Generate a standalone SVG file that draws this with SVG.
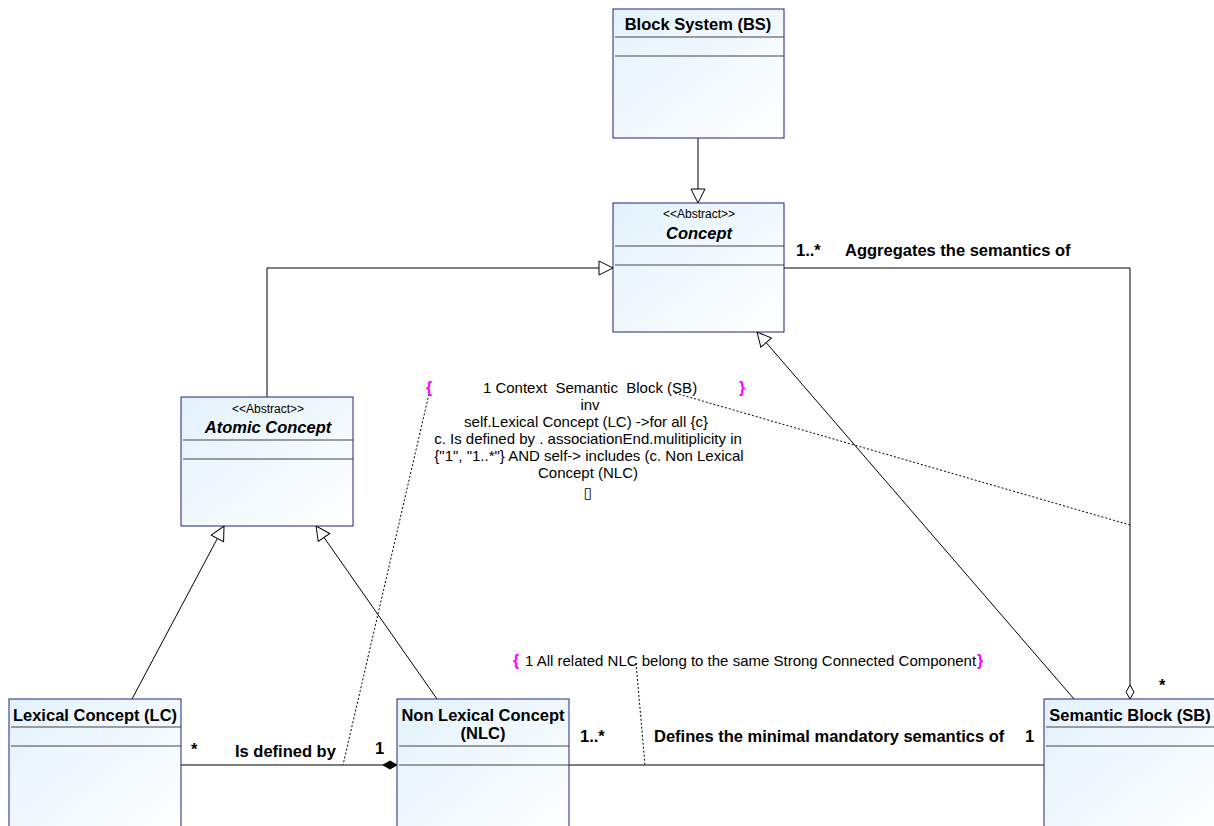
<svg xmlns="http://www.w3.org/2000/svg" width="1214" height="826" viewBox="0 0 1214 826">
<defs>
<linearGradient id="g" x1="0" y1="0" x2="1" y2="1">
<stop offset="0" stop-color="#e3f2fc"/>
<stop offset="1" stop-color="#ffffff"/>
</linearGradient>
<marker id="tri" viewBox="0 0 16 16" refX="15" refY="8" markerWidth="16" markerHeight="16" markerUnits="userSpaceOnUse" orient="auto">
<path d="M1,1 L15,8 L1,15 Z" fill="#fff" stroke="#000" stroke-width="1"/>
</marker>
<marker id="dia" viewBox="0 0 16 10" refX="15" refY="5" markerWidth="16" markerHeight="10" markerUnits="userSpaceOnUse" orient="auto">
<path d="M1,5 L8,1 L15,5 L8,9 Z" fill="#fff" stroke="#000" stroke-width="1"/>
</marker>
<marker id="fdia" viewBox="0 0 16 10" refX="15" refY="5" markerWidth="16" markerHeight="10" markerUnits="userSpaceOnUse" orient="auto">
<path d="M1,5 L8,1 L15,5 L8,9 Z" fill="#000" stroke="#000" stroke-width="1"/>
</marker>
</defs>
<style>
.box{fill:url(#g);stroke:#22227a;stroke-width:1}
.sep{stroke:#444;stroke-width:1.2}
.t{font-family:"Liberation Sans",Arial,sans-serif;font-weight:bold;font-size:16.5px;fill:#000;text-anchor:middle}
.ti{font-style:italic}
.st{font-family:"Liberation Sans",Arial,sans-serif;font-size:12px;fill:#000;text-anchor:middle}
.l{font-family:"Liberation Sans",Arial,sans-serif;font-weight:bold;font-size:16.5px;fill:#000}
.c{font-family:"Liberation Sans",Arial,sans-serif;font-size:15px;fill:#000;text-anchor:middle;white-space:pre}
.b{font-family:"Liberation Sans",Arial,sans-serif;font-weight:bold;font-size:16px;fill:#ff00ff}
.ln{fill:none;stroke:#000;stroke-width:1}
.dt{fill:none;stroke:#000;stroke-width:1;stroke-dasharray:2,2}
</style>
<g id="connectors">
<path class="ln" d="M698,138 V203" marker-end="url(#tri)"/>
<path class="ln" d="M267,397 V268 H613" marker-end="url(#tri)"/>
<path class="ln" d="M784,268 H1130 V699" marker-end="url(#dia)"/>
<path class="ln" d="M1074,699 L757,332" marker-end="url(#tri)"/>
<path class="ln" d="M132,699 L224,526" marker-end="url(#tri)"/>
<path class="ln" d="M437,699 L316,526" marker-end="url(#tri)"/>
<path class="ln" d="M181,765 H397" marker-end="url(#fdia)"/>
<path class="ln" d="M569,765 H1044"/>
<path class="dt" d="M429,394 L343,765"/>
<path class="dt" d="M675,393 L1130,525"/>
<path class="dt" d="M636,663 L645,765"/>
<text class="l" x="191" y="755">*</text>
<text class="l" x="235" y="757">Is defined by</text>
<text class="l" x="375" y="754">1</text>
<text class="l" x="580" y="742">1..*</text>
<text class="l" x="654" y="742">Defines the minimal mandatory semantics of</text>
<text class="l" x="1025" y="742">1</text>
<text class="l" x="796" y="256">1..*</text>
<text class="l" x="845" y="256">Aggregates the semantics of</text>
<text class="l" x="1159" y="691">*</text>
</g>
<g id="constraint1">
<text class="b" x="426" y="393">{</text>
<text class="b" x="739" y="393">}</text>
<text class="c" x="590" y="393" xml:space="preserve">1 Context  Semantic  Block (SB)</text>
<text class="c" x="590" y="410">inv</text>
<text class="c" x="586" y="427">self.Lexical Concept (LC) -&gt;for all {c}</text>
<text class="c" x="588" y="444">c. Is defined by . associationEnd.mulitiplicity in</text>
<text class="c" x="589" y="461">{"1", "1..*"} AND self-&gt; includes (c. Non Lexical</text>
<text class="c" x="588" y="478">Concept (NLC)</text>
<text x="588" y="498" style="font-family:'DejaVu Sans',sans-serif;font-size:15px;fill:#000;text-anchor:middle">▯</text>
</g>
<g id="constraint2">
<text class="b" x="513" y="666">{</text>
<text class="c" x="525" y="666" style="text-anchor:start">1 All related NLC belong to the same Strong Connected Component</text>
<text class="b" x="977" y="666">}</text>
</g>
<g id="bs">
<rect class="box" x="613" y="9" width="171" height="129"/>
<text class="t" x="698" y="30">Block System (BS)</text>
<line class="sep" x1="615" y1="37" x2="784" y2="37"/>
<line class="sep" x1="615" y1="56" x2="784" y2="56"/>
</g>
<g id="concept">
<rect class="box" x="613" y="203" width="171" height="129"/>
<text class="st" x="699" y="218">&lt;&lt;Abstract&gt;&gt;</text>
<text class="t ti" x="699" y="239">Concept</text>
<line class="sep" x1="615" y1="246" x2="784" y2="246"/>
<line class="sep" x1="615" y1="265" x2="784" y2="265"/>
</g>
<g id="atomic">
<rect class="box" x="181" y="397" width="172" height="129"/>
<text class="st" x="268" y="413">&lt;&lt;Abstract&gt;&gt;</text>
<text class="t ti" x="268" y="433">Atomic Concept</text>
<line class="sep" x1="183" y1="440" x2="353" y2="440"/>
<line class="sep" x1="183" y1="459" x2="353" y2="459"/>
</g>
<g id="lc">
<rect class="box" x="9" y="699" width="172" height="140"/>
<text class="t" x="95" y="721">Lexical Concept (LC)</text>
<line class="sep" x1="11" y1="727" x2="181" y2="727"/>
<line class="sep" x1="11" y1="746" x2="181" y2="746"/>
</g>
<g id="nlc">
<rect class="box" x="397" y="699" width="172" height="140"/>
<text class="t" x="483" y="721">Non Lexical Concept</text>
<text class="t" x="483" y="739">(NLC)</text>
<line class="sep" x1="399" y1="746" x2="569" y2="746"/>
<line class="sep" x1="399" y1="765" x2="569" y2="765"/>
</g>
<g id="sb">
<rect class="box" x="1044" y="699" width="175" height="140"/>
<text class="t" x="1130" y="721">Semantic Block (SB)</text>
<line class="sep" x1="1046" y1="727" x2="1214" y2="727"/>
<line class="sep" x1="1046" y1="746" x2="1214" y2="746"/>
</g>
</svg>
